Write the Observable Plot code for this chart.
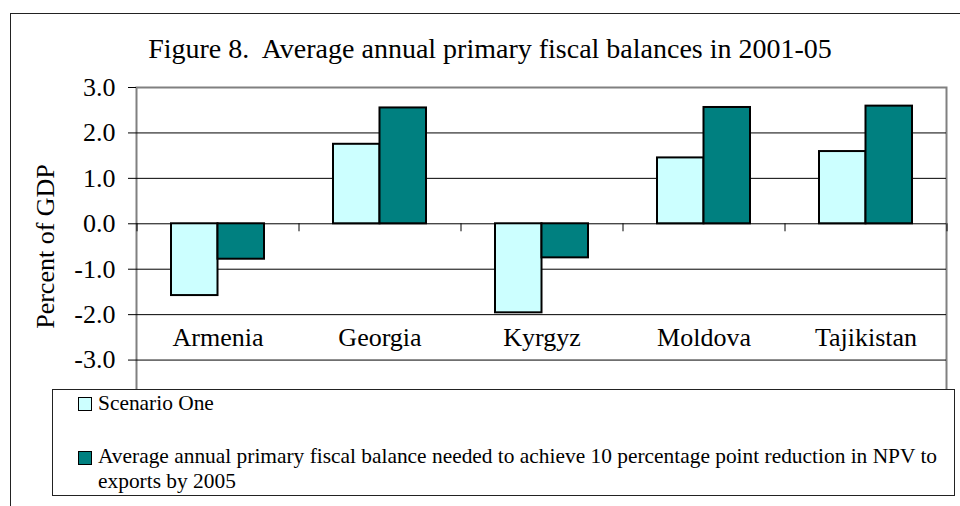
<!DOCTYPE html>
<html>
<head>
<meta charset="utf-8">
<script src="https://cdn.jsdelivr.net/npm/d3@7"></script>
<script src="https://cdn.jsdelivr.net/npm/@observablehq/plot@0.6"></script>
<style>
  html, body { margin: 0; padding: 0; background: #fff; }
  #root { position: relative; width: 960px; height: 506px; overflow: hidden;
          font-family: "Liberation Serif", "Times New Roman", serif; color: #000; }
  #chart { position: absolute; left: 0; top: 0; }
  #frame { position: absolute; left: 10px; top: 13px; width: 1000px; height: 600px;
           border-top: 1.5px solid #222; border-left: 1.5px solid #222; pointer-events: none; }
  #title { position: absolute; left: 0; top: 35px; width: 980px; text-align: center;
           font-size: 28px; line-height: 28px; white-space: pre; }
  #legend { position: absolute; left: 52px; top: 389px; width: 903px; height: 107px;
            box-sizing: border-box; border: 1.5px solid #222; background: #fff; }
  .sw { position: absolute; width: 14px; height: 14px; box-sizing: border-box; border: 1.5px solid #000; }
  .lt { position: absolute; font-size: 21.4px; line-height: 25px; }
  #chart svg text { font-family: "Liberation Serif", "Times New Roman", serif; }
</style>
</head>
<body>
<div id="root">
  <div id="chart"></div>
  <div id="frame"></div>
  <div id="title"></div>
  <div id="legend"></div>
  <div class="sw" id="sw1" style="left:78px; top:397px;"></div>
  <div class="lt" id="lt1" style="left:98px; top:391px;"></div>
  <div class="sw" id="sw2" style="left:78px; top:451px;"></div>
  <div class="lt" id="lt2" style="left:98px; top:444px; width:850px;"></div>
</div>
<script>
// ---- Data ----
const titleText = "Figure 8.  Average annual primary fiscal balances in 2001-05";
const yLabel = "Percent of GDP";
const countries = ["Armenia", "Georgia", "Kyrgyz", "Moldova", "Tajikistan"];
const scenarioOne = [-1.58, 1.75, -1.96, 1.45, 1.59];
const balanceNeeded = [-0.78, 2.55, -0.75, 2.56, 2.59];
const seriesLabels = [
  "Scenario One",
  "Average annual primary fiscal balance needed to achieve 10 percentage point reduction in NPV to exports by 2005"
];
const seriesColors = ["#CCFFFF", "#008080"];
const yTicks = [-3, -2, -1, 0, 1, 2, 3];
const yDomain = [-4, 3];

// ---- Build ----
const rows = countries.map((c, i) => ({country: c, s1: scenarioOne[i], s2: balanceNeeded[i]}));

const W = 960, H = 415, ML = 136, MR = 14, MT = 87, MB = 10;
const padInner = 0.426;
const step = (W - ML - MR) / countries.length;
const bw = step * (1 - padInner);
const FONT = "Liberation Serif, 'Times New Roman', serif";

const chart = Plot.plot({
  width: W, height: H,
  marginLeft: ML, marginRight: MR, marginTop: MT, marginBottom: MB,
  style: {fontFamily: FONT, fontSize: "26px", color: "#000", background: "transparent"},
  x: {domain: countries, paddingInner: padInner, paddingOuter: padInner / 2, axis: null},
  y: {domain: yDomain, axis: null},
  marks: [
    Plot.frame({stroke: "#808080", strokeWidth: 2}),
    Plot.gridY({ticks: yTicks.filter(t => t < yDomain[1]), stroke: "#000", strokeOpacity: 1, strokeWidth: 1}),
    Plot.ruleX(countries, {x: d => d, dx: -step / 2, y1: 0, y2: 0, insetBottom: -8, stroke: "#000"}),
    Plot.ruleX(countries.slice(-1), {x: d => d, dx: step / 2, y1: 0, y2: 0, insetBottom: -8, stroke: "#000"}),
    Plot.barY(rows, {x: "country", y: "s1", fill: seriesColors[0], stroke: "#000", strokeWidth: 2, insetRight: bw / 2}),
    Plot.barY(rows, {x: "country", y: "s2", fill: seriesColors[1], stroke: "#000", strokeWidth: 2, insetLeft: bw / 2}),
    Plot.axisY({ticks: yTicks, tickFormat: d => d.toFixed(1), tickSize: 8, tickPadding: 13, label: null,
                fontFamily: FONT, fontSize: 26, fontVariant: "normal"}),
    Plot.text(countries, {x: d => d, y: () => -2.5, fontSize: 26, fontFamily: FONT}),
    Plot.text([yLabel], {frameAnchor: "left", textAnchor: "middle", rotate: -90, lineAnchor: "bottom",
                         dx: -83, fontSize: 26, fontFamily: FONT})
  ]
});
document.getElementById("chart").appendChild(chart);

document.getElementById("title").textContent = titleText;
document.getElementById("sw1").style.background = seriesColors[0];
document.getElementById("sw2").style.background = seriesColors[1];
document.getElementById("lt1").textContent = seriesLabels[0];
document.getElementById("lt2").textContent = seriesLabels[1];
</script>
</body>
</html>
